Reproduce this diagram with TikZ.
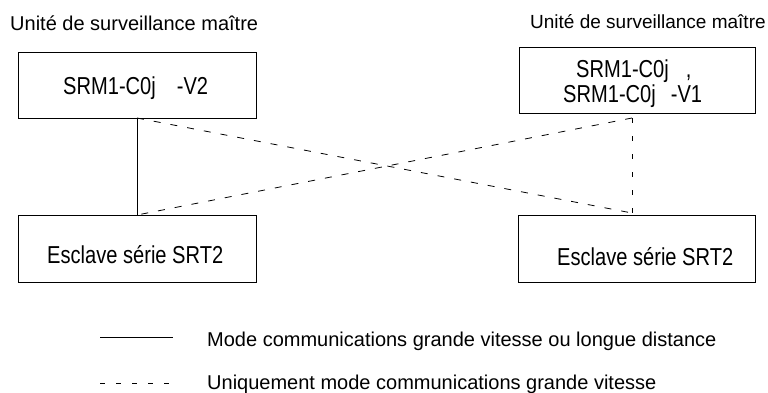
\documentclass[tikz,border=0pt]{standalone}
\usepackage{fontspec}
\setmainfont{Liberation Sans}
\newfontfamily\narrowfont[FakeStretch=0.82]{Liberation Sans}
\begin{document}
\begin{tikzpicture}[x=1pt,y=-1pt,
  box/.style={draw,line width=0.8pt,inner sep=0pt,anchor=north west},
  boxtext/.style={anchor=base west,inner sep=0pt,font=\narrowfont\fontsize{24.5}{28}\selectfont},
  title/.style={anchor=base west,inner sep=0pt},
  legtext/.style={anchor=base west,inner sep=0pt,font=\fontsize{20}{24}\selectfont},
  solidlink/.style={line width=0.8pt},
  dashlink/.style={line width=0.8pt,dash pattern=on 7pt off 10pt},
  vdashlink/.style={line width=0.8pt,dash pattern=on 5pt off 13pt},
  legdash/.style={line width=0.8pt,dash pattern=on 5pt off 11pt}]
\useasboundingbox (0,0) rectangle (768,392);
\fill[white] (0,0) rectangle (768,392);
% titles
\node[title,font=\fontsize{20}{24}\selectfont] (t1) at (10,30) {Unité de surveillance maître};
\node[title,font=\fontsize{19}{23}\selectfont] (t2) at (530,28) {Unité de surveillance maître};
% boxes
\node[box,minimum width=238pt,minimum height=66pt] (m1) at (18,52) {};
\node[box,minimum width=236pt,minimum height=66pt] (m2) at (519,47) {};
\node[box,minimum width=238pt,minimum height=67pt] (s1) at (18,215) {};
\node[box,minimum width=237pt,minimum height=67pt] (s2) at (518,215) {};
% box texts
\node[boxtext] (m1t) at (63,94) {SRM1-C0j\hspace{21pt}-V2};
\node[boxtext] (m2t1) at (576,77) {SRM1-C0j\hspace{17pt},};
\node[boxtext] (m2t2) at (563,102) {SRM1-C0j\hspace{15pt}-V1};
\node[boxtext] (s1t) at (47,263) {Esclave série SRT2};
\node[boxtext] (s2t) at (557,265) {Esclave série SRT2};
% connection points
\coordinate (tl) at (137,118);
\coordinate (bl) at (137,215);
\coordinate (tr) at (632,118);
\coordinate (br) at (632,213);
% connectors
\draw[solidlink] (tl) -- (bl);
\draw[dashlink] (tl) -- (br);
\draw[dashlink] (tr) -- (bl);
\draw[vdashlink] (tr) -- (br);
% legend
\coordinate (l1a) at (100,337);
\coordinate (l1b) at (173,337);
\coordinate (l2a) at (100,383);
\coordinate (l2b) at (173,383);
\draw[solidlink] (l1a) -- (l1b);
\draw[legdash] (l2a) -- (l2b);
\node[legtext] (lt1) at (207,346) {Mode communications grande vitesse ou longue distance};
\node[legtext] (lt2) at (207,389) {Uniquement mode communications grande vitesse};
\end{tikzpicture}
\end{document}
